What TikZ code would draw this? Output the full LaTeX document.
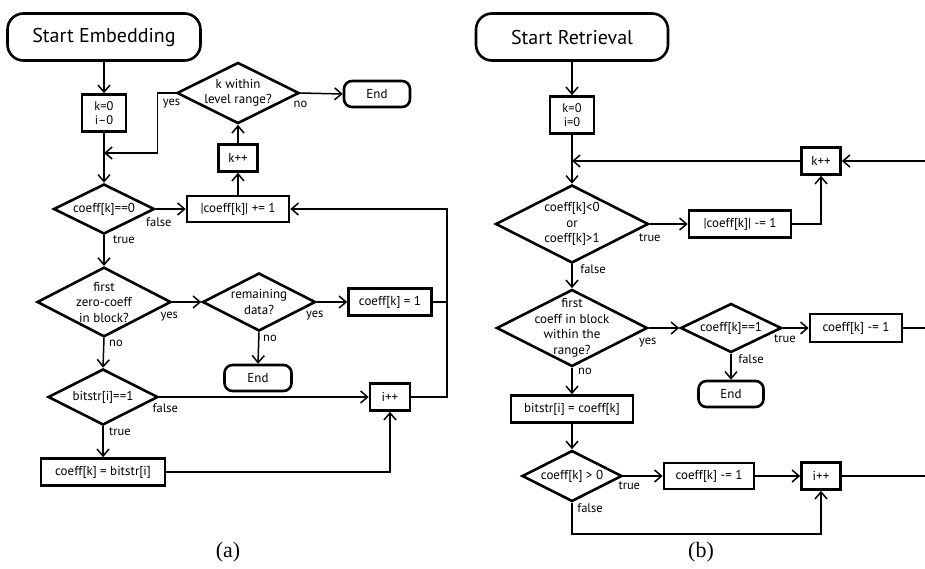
\documentclass[tikz,border=0pt]{standalone}
\usepackage{fontspec}
\setmainfont{PT Sans}
\newfontfamily\capfont{Liberation Serif}
\usetikzlibrary{shapes.geometric,arrows.meta}

\begin{document}
\begin{tikzpicture}[
    x=1pt, y=-1pt,
    proc node/.style={rectangle, draw=black, line width=2.6pt, fill=white, inner sep=0pt, align=center, font=\fontsize{13}{15}\selectfont},
    dec node/.style={diamond, draw=black, line width=2.6pt, fill=white, inner sep=0pt, align=center, font=\fontsize{13}{15.5}\selectfont},
    term node/.style={rectangle, rounded corners=8pt, draw=black, line width=2.6pt, fill=white, inner sep=0pt, font=\fontsize{13}{15}\selectfont},
    start node/.style={term node, rounded corners=16pt, font=\fontsize{20}{24}\selectfont},
    flow edge/.style={draw=black, line width=1.5pt, -{Straight Barb[length=7pt,width=12pt]}},
    plain edge/.style={draw=black, line width=1.5pt},
    lbl node/.style={inner sep=0pt, font=\fontsize{12.5}{14}\selectfont},
    cap node/.style={inner sep=0pt, font=\capfont\fontsize{22}{24}\selectfont}
]
\useasboundingbox (0,0) rectangle (925,568);

% (a) embedding
\node[start node, minimum width=193pt, minimum height=47pt] (se) at (104,37) {Start Embedding};
\node[proc node, minimum width=44pt, minimum height=37pt, font=\fontsize{12.5}{13.5}\selectfont] (ki) at (104,113) {k=0\\i–0};
\node[dec node, minimum width=122pt, minimum height=61pt, aspect=2] (dk) at (238,93) {k within\\level range?};
\node[term node, minimum width=66pt, minimum height=26pt] (e1) at (377,94) {End};
\node[proc node, minimum width=39pt, minimum height=27pt] (kp) at (238,158) {k++};
\node[dec node, minimum width=101pt, minimum height=50pt, aspect=2] (d1) at (104,209) {coeff[k]==0};
\node[proc node, minimum width=102pt, minimum height=26pt] (inc) at (238,209) {|coeff[k]| += 1};
\node[dec node, minimum width=134pt, minimum height=69pt, aspect=1.9] (d2) at (104,302) {first\\zero-coeff\\in block?};
\node[dec node, minimum width=113pt, minimum height=58pt, aspect=1.9] (d3) at (259,302) {remaining\\data?};
\node[proc node, minimum width=83pt, minimum height=27pt] (set1) at (390,302) {coeff[k] = 1};
\node[term node, minimum width=67pt, minimum height=26pt] (e2) at (258,378) {End};
\node[dec node, minimum width=110pt, minimum height=56pt, aspect=2] (d4) at (103,397) {bitstr[i]==1};
\node[proc node, minimum width=40pt, minimum height=27pt] (ip) at (390,397) {i++};
\node[proc node, minimum width=124pt, minimum height=27pt] (cpy) at (103,472) {coeff[k] = bitstr[i]};
\node[cap node] (capA) at (228,552) {(a)};

\coordinate (m1) at (104,153);
\coordinate (rr) at (447,209);

\draw[flow edge] (se) -- (ki);
\draw[flow edge] (ki) -- (d1);
\draw[flow edge] (dk.west) -- ++(-18,0) |- (m1);
\draw[flow edge] (dk.east) -- (e1.west);
\draw[flow edge] (kp) -- (dk.south);
\draw[flow edge] (inc) -- (kp);
\draw[flow edge] (d1.east) -- (inc.west);
\draw[flow edge] (d1.south) -- (d2.north);
\draw[flow edge] (d2.east) -- (d3.west);
\draw[flow edge] (d3.east) -- (set1.west);
\draw[flow edge] (d3.south) -- (e2.north);
\draw[flow edge] (d2.south) -- (d4.north);
\draw[flow edge] (d4.east) -- (ip.west);
\draw[flow edge] (d4.south) -- (cpy.north);
\draw[flow edge] (cpy.east) -| (ip.south);
\draw[flow edge] (ip.east) -| (rr) -- (inc.east);
\draw[plain edge] (set1.east) -- (set1.east -| rr);

\node[lbl node] (ya) at ([xshift=-4pt,yshift=-11pt]dk.west) {yes};
\node[lbl node] (na) at ([xshift=0pt,yshift=-11pt]dk.east) {no};
\node[lbl node] (fa) at ([xshift=3pt,yshift=-13pt]d1.east) {false};
\node[lbl node] (ta) at ([xshift=20pt,yshift=-4pt]d1.south) {true};
\node[lbl node] (yb) at ([xshift=-3pt,yshift=-15pt]d2.east) {yes};
\node[lbl node] (nb) at ([xshift=12pt,yshift=-5pt]d2.south) {no};
\node[lbl node] (yc) at ([xshift=-2pt,yshift=-14pt]d3.east) {yes};
\node[lbl node] (nc) at ([xshift=11pt,yshift=-6pt]d3.south) {no};
\node[lbl node] (fb) at ([xshift=6pt,yshift=-11pt]d4.east) {false};
\node[lbl node] (tb) at ([xshift=17pt,yshift=-5pt]d4.south) {true};

% (b) retrieval
\node[start node, minimum width=192pt, minimum height=47pt] (sr) at (572,37) {Start Retrieval};
\node[proc node, minimum width=44pt, minimum height=37pt, font=\fontsize{12.5}{13.5}\selectfont] (rki) at (572,115) {k=0\\i=0};
\node[proc node, minimum width=39pt, minimum height=27pt] (rkp) at (821,161) {k++};
\node[dec node, minimum width=153pt, minimum height=78pt, aspect=2, inner ysep=-6pt] (r1) at (572,224) {coeff[k]<0\\or\\coeff[k]>1};
\node[proc node, minimum width=102pt, minimum height=27pt] (dec1) at (740,224) {|coeff[k]| -= 1};
\node[dec node, minimum width=151pt, minimum height=77pt, aspect=2, inner ysep=-14pt] (r2) at (572,328) {first\\coeff in block\\within the\\range?};
\node[dec node, minimum width=101pt, minimum height=49pt, aspect=2] (r3) at (731,328) {coeff[k]==1};
\node[proc node, minimum width=92pt, minimum height=28pt] (dec2) at (856,328) {coeff[k] -= 1};
\node[term node, minimum width=65pt, minimum height=26pt] (e3) at (731,394) {End};
\node[proc node, minimum width=122pt, minimum height=27pt] (bs) at (572,409) {bitstr[i] = coeff[k]};
\node[dec node, minimum width=100pt, minimum height=51pt, aspect=2] (r4) at (572,476) {coeff[k] > 0};
\node[proc node, minimum width=90pt, minimum height=26pt] (dec3) at (709,476) {coeff[k] -= 1};
\node[proc node, minimum width=39pt, minimum height=27pt] (rip) at (821,476) {i++};
\node[cap node] (capB) at (701,552) {(b)};

\coordinate (m2) at (572,161);
\coordinate (ea) at (925,161);
\coordinate (eb) at (925,328);
\coordinate (ec) at (925,476);

\draw[flow edge] (sr) -- (rki);
\draw[flow edge] (rki) -- (r1);
\draw[flow edge] (rkp.west) -- (m2);
\draw[flow edge] (ea) -- (rkp.east);
\draw[flow edge] (r1.east) -- (dec1.west);
\draw[flow edge] (dec1.east) -| (rkp.south);
\draw[flow edge] (r1.south) -- (r2.north);
\draw[flow edge] (r2.east) -- (r3.west);
\draw[flow edge] (r3.east) -- (dec2.west);
\draw[plain edge] (dec2.east) -- (eb);
\draw[flow edge] (r3.south) -- (e3.north);
\draw[flow edge] (r2.south) -- (bs.north);
\draw[flow edge] (bs.south) -- (r4.north);
\draw[flow edge] (r4.east) -- (dec3.west);
\draw[flow edge] (dec3.east) -- (rip.west);
\draw[plain edge] (rip.east) -- (ec);
\draw[flow edge] (r4.south) -- ++(0,31) -| (rip.south);

\node[lbl node] (td) at ([xshift=0pt,yshift=-14pt]r1.east) {true};
\node[lbl node] (fd) at ([xshift=21pt,yshift=-5pt]r1.south) {false};
\node[lbl node] (ye) at ([xshift=-1pt,yshift=-15pt]r2.east) {yes};
\node[lbl node] (ne) at ([xshift=13pt,yshift=-4pt]r2.south) {no};
\node[lbl node] (tf) at ([xshift=2pt,yshift=-11pt]r3.east) {true};
\node[lbl node] (ff) at ([xshift=20pt,yshift=-5pt]r3.south) {false};
\node[lbl node] (tg) at ([xshift=6pt,yshift=-10pt]r4.east) {true};
\node[lbl node] (fg) at ([xshift=18pt,yshift=-5pt]r4.south) {false};

\end{tikzpicture}
\end{document}
